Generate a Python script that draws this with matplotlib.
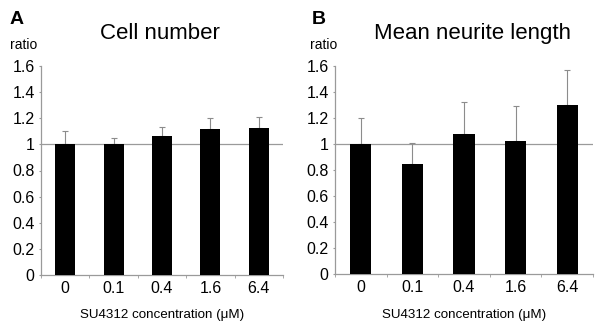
import matplotlib
matplotlib.use("Agg")
import matplotlib.pyplot as plt
import numpy as np

plt.rcParams["font.family"] = ["Liberation Sans", "DejaVu Sans"]

categories = ["0", "0.1", "0.4", "1.6", "6.4"]
cell_number = [1.0, 1.0, 1.063, 1.114, 1.126]
cell_number_err = [0.10, 0.05, 0.067, 0.086, 0.081]
neurite_length = [1.0, 0.85, 1.076, 1.02, 1.30]
neurite_length_err = [0.198, 0.16, 0.249, 0.27, 0.267]
y_ticks = [0, 0.2, 0.4, 0.6, 0.8, 1, 1.2, 1.4, 1.6]
y_labels = ["0", "0.2", "0.4", "0.6", "0.8", "1", "1.2", "1.4", "1.6"]

axis_grey = "#9a9a9a"
err_grey = "#8c8c8c"
W, H = 602, 326

fig = plt.figure(figsize=(6.02, 3.26), dpi=100)
ax1 = fig.add_axes([41 / W, 1 - 275 / H, 242 / W, 209 / H])
ax2 = fig.add_axes([335 / W, 1 - 274 / H, 258 / W, 208 / H])


def draw_panel(ax, values, errs, title, title_x, letter, letter_x, ratio_x):
    x = np.arange(len(categories))
    ax.bar(x, values, width=0.41, color="black", zorder=3)
    ax.errorbar(x, values, yerr=[np.zeros(len(errs)), errs], fmt="none",
                ecolor=err_grey, elinewidth=0.8, capsize=2.2, capthick=0.8,
                zorder=2)
    ax.axhline(1, color=axis_grey, lw=0.9, zorder=1)
    ax.set_xlim(-0.5, len(categories) - 0.5)
    ax.set_ylim(0, 1.6)
    ax.set_yticks(y_ticks)
    ax.set_yticklabels(y_labels, fontsize=11.5)
    ax.set_xticks(x)
    ax.set_xticklabels(categories, fontsize=11.5)
    ax.set_xticks(np.arange(len(categories) + 1) - 0.5, minor=True)
    ax.tick_params(axis="x", which="major", length=0, pad=4)
    ax.tick_params(axis="x", which="minor", length=2.5, color=axis_grey,
                   direction="out")
    ax.tick_params(axis="y", length=1.5, color=axis_grey, pad=3)
    for side in ["top", "right"]:
        ax.spines[side].set_visible(False)
    for side in ["left", "bottom"]:
        ax.spines[side].set_color(axis_grey)
        ax.spines[side].set_linewidth(0.9)
    pos = ax.get_position()
    fig.text((pos.x0 + pos.x1) / 2, 1 - 318 / H,
             "SU4312 concentration (\u03bcM)", fontsize=9.6,
             ha="center", va="baseline")
    fig.text(title_x / W, 1 - 39 / H, title, fontsize=16,
             ha="center", va="baseline")
    fig.text(ratio_x / W, 1 - 49 / H, "ratio", fontsize=10,
             ha="left", va="baseline")
    fig.text(letter_x / W, 1 - 24 / H, letter, fontsize=14, fontweight="bold",
             ha="left", va="baseline")


draw_panel(ax1, cell_number, cell_number_err, "Cell number", 160,
           "A", 10, 10)
draw_panel(ax2, neurite_length, neurite_length_err, "Mean neurite length", 473,
           "B", 312, 310)

fig.savefig("out.png", dpi=100)
